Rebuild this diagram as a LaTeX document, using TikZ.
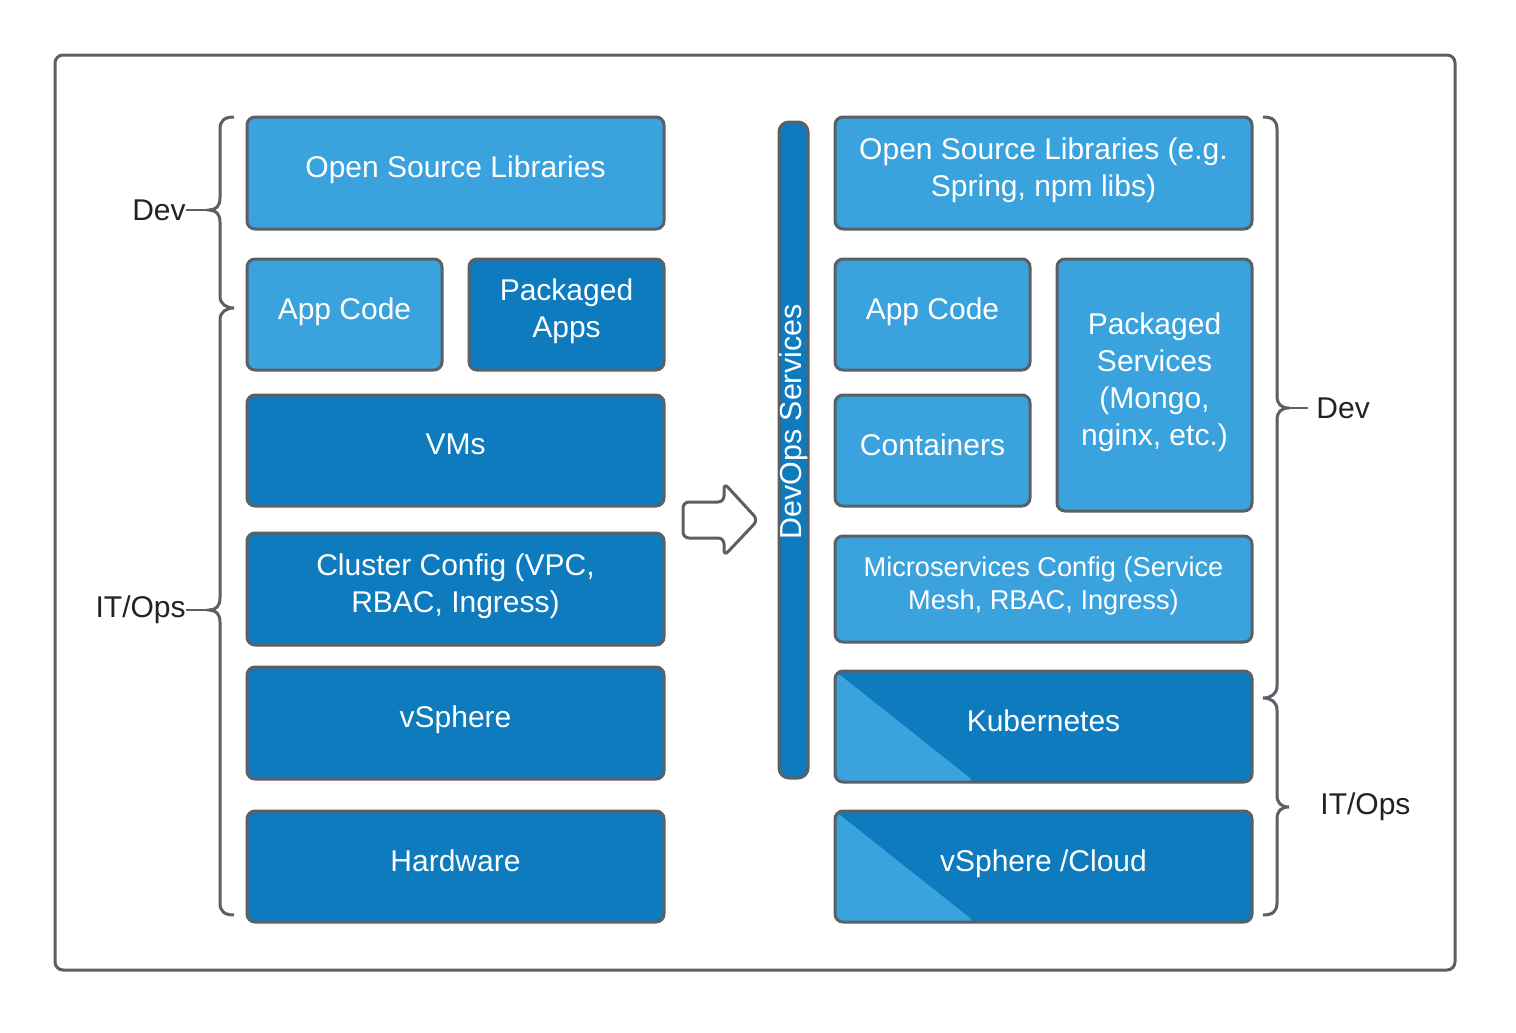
\documentclass[tikz,border=0pt]{standalone}
\usepackage{fontspec}
\setmainfont{Liberation Sans}
\definecolor{lb}{HTML}{3AA3DE}
\definecolor{db}{HTML}{0E7BBE}
\definecolor{bord}{HTML}{5B5F66}
\definecolor{ink}{HTML}{222222}
\tikzset{
  box/.style={draw=bord, line width=1.5pt, rounded corners=4pt, text=white,
    font=\fontsize{15}{18.5}\selectfont, align=center, inner sep=0pt, text depth=6pt},
  lite/.style={box, fill=lb},
  dark/.style={box, fill=db},
  half/.style={dark, path picture={\fill[lb] (path picture bounding box.north west)
     -- ([xshift=70pt]path picture bounding box.south west)
     -- (path picture bounding box.south west) -- cycle;}},
  brace/.style={draw=bord, line width=1.5pt},
  lbl/.style={text=ink, font=\fontsize{15}{18}\selectfont, inner sep=0pt},
}
\begin{document}
\begin{tikzpicture}[x=0.5pt,y=-0.5pt]
\useasboundingbox[fill=white] (0,0) rectangle (1516,1033);
% outer frame
\draw[bord, line width=1.5pt, rounded corners=4pt] (55,55) rectangle (1455,970);

% left column
\node[lite, minimum width=208.5pt, minimum height=56pt] (osl) at (455.5,173) {Open Source Libraries};
\node[lite, minimum width=97.5pt, minimum height=55.5pt] (appl) at (344.5,314.5) {App Code};
\node[dark, minimum width=97.5pt, minimum height=55.5pt] (pkga) at (566.5,314.5) {Packaged\\Apps};
\node[dark, minimum width=208.5pt, minimum height=55.5pt] (vms) at (455.5,450.5) {VMs};
\node[dark, minimum width=208.5pt, minimum height=56pt] (clus) at (455.5,589) {Cluster Config (VPC,\\RBAC, Ingress)};
\node[dark, minimum width=208.5pt, minimum height=56pt] (vsph) at (455.5,723) {vSphere};
\node[dark, minimum width=208.5pt, minimum height=55.5pt] (hw) at (455.5,866.5) {Hardware};

% arrow
\draw[bord, line width=1.5pt, rounded corners=3pt, fill=white]
  (683,502) -- (724,502) -- (724,483) -- (758,520) -- (724,556) -- (724,538) -- (683,538) -- cycle;

% devops bar
\node[dark, minimum width=14.5pt, minimum height=328pt, rounded corners=5pt] (bar) at (793.5,450) {};
\node[text=white, font=\fontsize{15.2}{18}\selectfont, rotate=90, inner sep=0pt] (bartxt) at (794,422) {DevOps Services};

% right column
\node[lite, minimum width=208.5pt, minimum height=56pt] (osr) at (1043.5,173) {Open Source Libraries (e.g.\\Spring, npm libs)};
\node[lite, minimum width=97.5pt, minimum height=55.5pt] (appr) at (932.5,314.5) {App Code};
\node[lite, minimum width=97.5pt, minimum height=126pt] (pkgs) at (1154.5,385) {Packaged\\Services\\(Mongo,\\nginx, etc.)};
\node[lite, minimum width=97.5pt, minimum height=55.5pt] (cont) at (932.5,450.5) {Containers};
\node[lite, minimum width=208.5pt, minimum height=53pt, font=\fontsize{13.6}{16.5}\selectfont] (micro) at (1043.5,589) {Microservices Config (Service\\Mesh, RBAC, Ingress)};
\node[half, minimum width=208.5pt, minimum height=55.5pt] (kube) at (1043.5,726.5) {Kubernetes};
\node[half, minimum width=208.5pt, minimum height=55.5pt] (vsc) at (1043.5,866.5) {vSphere /Cloud};

% left braces
\draw[brace] (234,117) .. controls (224,117) and (220,121) .. (220,129) -- (220,198)
  .. controls (220,206) and (216,210) .. (209,210) .. controls (216,210) and (220,214) .. (220,222)
  -- (220,296) .. controls (220,304) and (226,308) .. (234,308)
  .. controls (226,308) and (220,312) .. (220,320) -- (220,598)
  .. controls (220,606) and (216,610) .. (209,610) .. controls (216,610) and (220,614) .. (220,622)
  -- (220,903) .. controls (220,911) and (224,915) .. (234,915);
\coordinate (ldt) at (209,210);
\coordinate (lit) at (209,610);
\node[lbl, anchor=east] (ldev) at (186,210) {Dev};
\node[lbl, anchor=east] (lops) at (186,610) {IT/Ops};
\draw[brace, line width=1.2pt] (ldt) -- (ldev.east);
\draw[brace, line width=1.2pt] (lit) -- (lops.east);

% right braces
\draw[brace] (1263,117) .. controls (1273,117) and (1277,121) .. (1277,129) -- (1277,396)
  .. controls (1277,404) and (1281,408) .. (1289,408) .. controls (1281,408) and (1277,412) .. (1277,420)
  -- (1277,686) .. controls (1277,694) and (1271,698) .. (1263,698)
  .. controls (1271,698) and (1277,702) .. (1277,710) -- (1277,795)
  .. controls (1277,803) and (1281,807) .. (1289,807) .. controls (1281,807) and (1277,811) .. (1277,819)
  -- (1277,903) .. controls (1277,911) and (1273,915) .. (1263,915);
\coordinate (rdt) at (1289,408);
\node[lbl, anchor=west] (rdev) at (1316,408) {Dev};
\node[lbl, anchor=west] (rops) at (1320,807) {IT/Ops};
\draw[brace, line width=1.2pt] (rdt) -- ([xshift=-4pt]rdev.west);
\end{tikzpicture}
\end{document}
